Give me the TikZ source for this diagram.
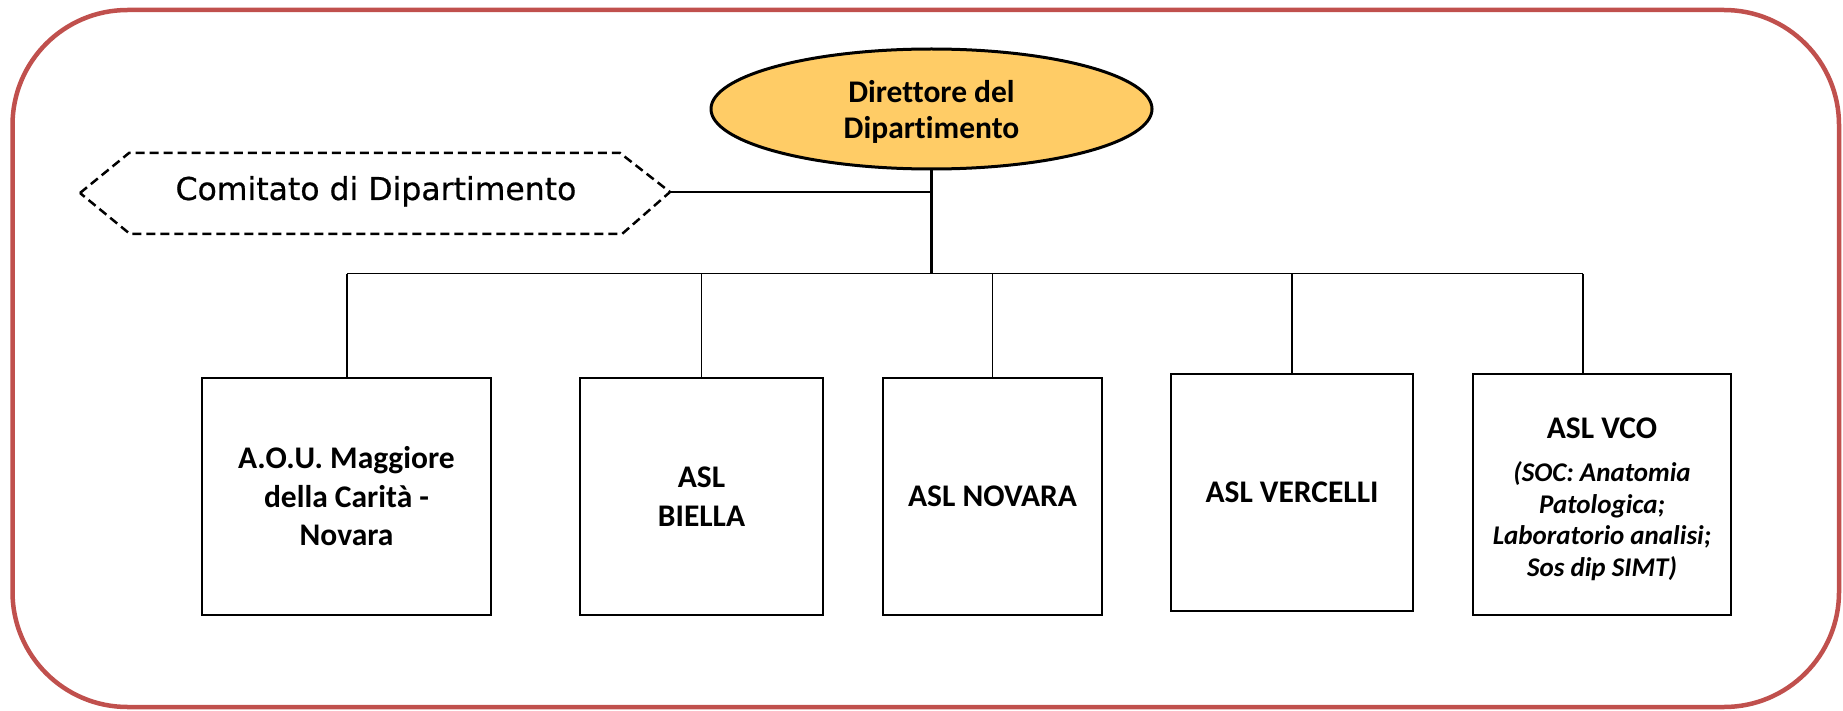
\documentclass[tikz,border=0pt]{standalone}
\usepackage{fontspec}
\setmainfont{Carlito}[Ligatures=NoCommon]
\newfontfamily\comfont{DejaVu Sans}[FakeBold=0.6]
\usetikzlibrary{shapes.geometric}
\definecolor{framered}{RGB}{192,80,77}
\definecolor{dirfill}{RGB}{255,204,102}
\begin{document}
\begin{tikzpicture}[x=1pt,y=-1pt,
  unitbox/.style={draw, line width=2.7pt, rectangle, minimum height=237pt, inner sep=0pt, align=center, font=\fontsize{31.5}{38.5}\selectfont\bfseries},
  thinlink/.style={line width=1.6pt},
  thicklink/.style={line width=2.7pt},
  hexline/.style={line width=2.5pt, dash pattern=on 9pt off 5pt},
  framestyle/.style={draw=framered, line width=4.5pt, rounded corners=115pt}]
\useasboundingbox (0,0) rectangle (1843,711);
\draw[framestyle] (12.5,10) rectangle (1839,707);

% director
\node[ellipse, draw, line width=3pt, fill=dirfill, minimum width=441pt, minimum height=120pt, inner sep=0pt] (dir) at (931.5,109) {};
\node[inner sep=0pt, align=center, font=\fontsize{31.5}{36}\selectfont\bfseries] (dirt) at (931.5,112) {Direttore del\\Dipartimento};

% committee hexagon
\coordinate (hL) at (80,193);
\coordinate (hTL) at (129,153);
\coordinate (hTR) at (620,153);
\coordinate (hR) at (670,192);
\coordinate (hBR) at (622,234);
\coordinate (hBL) at (130,234);
\draw[hexline] (hL) -- (hTL) -- (hTR) -- (hR) -- (hBR) -- (hBL) -- cycle;
\node[anchor=base, inner sep=0pt, font=\comfont\fontsize{31.5}{38}\selectfont] (com) at (376,200) {Comitato di Dipartimento};

% boxes
\node[unitbox, minimum width=289pt] (b1) at (346.5,496.5) {A.O.U. Maggiore\\della Carità -\\Novara};
\node[unitbox, minimum width=243pt] (b2) at (701.5,496.5) {ASL\\BIELLA};
\node[unitbox, minimum width=219pt] (b3) at (992.5,496.5) {ASL NOVARA};
\node[unitbox, minimum width=242pt] (b4) at (1292,492.5) {ASL VERCELLI};
\node[unitbox, minimum width=258pt, minimum height=241pt] (b5) at (1602,494.5) {};
\node[anchor=base, inner sep=0pt, font=\fontsize{31.5}{38}\selectfont\bfseries] (vcot) at (1602,438) {ASL VCO};
\node[inner sep=0pt, align=center, font=\fontsize{27}{31.7}\selectfont\bfseries\itshape] (vcod) at (1602,521) {(SOC: Anatomia\\Patologica;\\Laboratorio analisi;\\Sos dip SIMT)};

% connectors
\coordinate (busL) at (347,273.5);
\coordinate (busR) at (1583,273.5);
\draw[thicklink] (hR) -- (hR -| dir.south);
\draw[thicklink] (dir.south) -- (dir.south |- busL);
\draw[thinlink] (busL) -- (busR);
\draw[thinlink] (busL) -- (busL |- b1.north);
\draw[thinlink] (b2.north |- busL) -- (b2.north);
\draw[thinlink] (b3.north |- busL) -- (b3.north);
\draw[thinlink] (b4.north |- busL) -- (b4.north);
\draw[thinlink] (busR) -- (busR |- b5.north);
\end{tikzpicture}
\end{document}
